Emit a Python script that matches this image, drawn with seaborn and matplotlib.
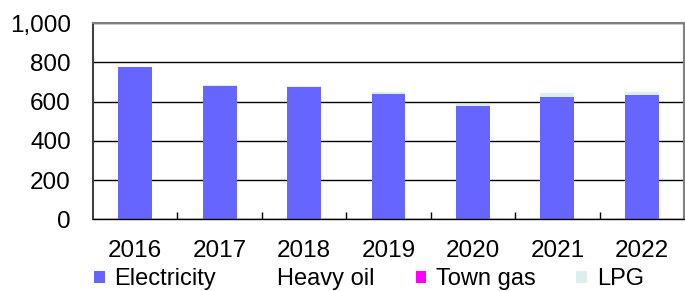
import pandas as pd
import matplotlib.pyplot as plt
import seaborn as sns
from matplotlib.patches import Patch
from matplotlib.ticker import FuncFormatter

# values
years = ['2016', '2017', '2018', '2019', '2020', '2021', '2022']
electricity = [775, 680, 676, 639, 578, 626, 633]
heavy_oil = [0, 0, 0, 0, 0, 0, 0]
town_gas = [0, 0, 0, 0, 0, 0, 0]
lpg = [3, 3, 3, 9, 10, 16, 15]

layers = ['Electricity', 'Heavy oil', 'Town gas', 'LPG']
colors = {'Electricity': '#6666FF', 'Heavy oil': '#FFFFFF',
          'Town gas': '#FF00FF', 'LPG': '#DDEEEE'}

df = pd.DataFrame({'year': years, 'Electricity': electricity, 'Heavy oil': heavy_oil,
                   'Town gas': town_gas, 'LPG': lpg})
cum = df[layers].cumsum(axis=1)
cum['year'] = df['year']

plt.rcParams['font.family'] = ['Liberation Sans', 'DejaVu Sans']
fig = plt.figure(figsize=(6.85, 2.91), dpi=100)
ax = fig.add_axes([0.1358, 0.2464, 0.8627, 0.6736])

# stacked bars: draw cumulative totals from the top layer down
for name in reversed(layers):
    sns.barplot(data=cum, x='year', y=name, color=colors[name], width=0.4,
                saturation=1, errorbar=None, edgecolor='none', ax=ax)

ax.set_axisbelow(True)
ax.set_ylim(0, 1000)
ax.set_yticks(range(0, 1001, 200))
ax.yaxis.set_major_formatter(FuncFormatter(lambda v, p: f'{v:,.0f}'))
ax.grid(axis='y', color='black', linewidth=1)
ax.set_xlabel('')
ax.set_ylabel('')
ax.tick_params(axis='both', length=0, labelsize=17.5)
ax.tick_params(axis='y', pad=16)
ax.tick_params(axis='x', pad=15)
ax.set_xticks([i + 0.5 for i in range(len(years) - 1)], minor=True)
ax.tick_params(axis='x', which='minor', direction='in', length=5, width=1, color='black')

ax.spines['left'].set_color('#404040')
ax.spines['left'].set_linewidth(1.5)
ax.spines['top'].set_color('#808080')
ax.spines['top'].set_linewidth(1.5)
ax.spines['right'].set_color('#808080')
ax.spines['right'].set_linewidth(1.5)
ax.spines['bottom'].set_color('black')
ax.spines['bottom'].set_linewidth(1)

handles = [Patch(facecolor=colors[n], edgecolor='none', label=n) for n in layers]
fig.legend(handles=handles, loc='center left', bbox_to_anchor=(94 / 685, 0.04),
           ncol=4, frameon=False, fontsize=17, handlelength=0.45, handleheight=0.45,
           handletextpad=0.42, columnspacing=1.72, borderpad=0, borderaxespad=0)

fig.savefig('out.png', dpi=100)
plt.close()
